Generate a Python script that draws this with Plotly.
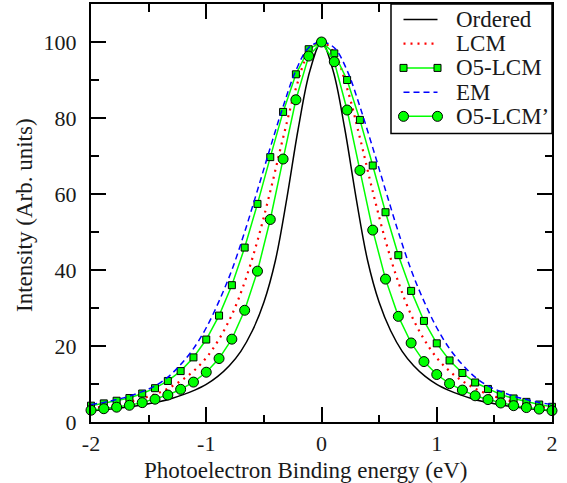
import plotly.graph_objects as go

# Binding-energy grid shared by the sampled spectra (37 points, step 1/9 eV)
energy = [round(-2 + i / 9, 4) for i in range(37)]

# Uniform 0.1 eV grid for the ordered-alloy reference line
energy_ordered = [round(-2 + i * 0.1, 2) for i in range(41)]
ordered = [2.9, 3.2, 3.5, 3.9, 4.3, 4.8, 5.4, 6.2, 7.2, 8.4, 9.9, 12.0, 14.8, 18.6,
           24.0, 31.5, 42.5, 59.0, 77.5, 92.5, 100.0, 92.5, 77.5, 59.0, 42.5, 31.5,
           24.0, 18.6, 14.8, 12.0, 9.9, 8.4, 7.2, 6.2, 5.4, 4.8, 4.3, 3.9, 3.5, 3.2, 2.9]

lcm = [3.6, 4.1, 4.6, 5.3, 6.2, 7.3, 8.8, 10.8, 13.4, 16.9, 21.8, 28.2, 36.8, 47.7,
       60.7, 74.8, 87.8, 97.1, 100.0, 97.1, 87.8, 74.8, 60.7, 47.7, 36.8, 28.2,
       21.8, 16.9, 13.4, 10.8, 8.8, 7.3, 6.2, 5.3, 4.6, 4.1, 3.6]

o5_lcm = [4.3, 4.9, 5.6, 6.3, 7.5, 8.9, 10.8, 13.4, 17.0, 21.7, 28.0, 36.0, 45.9, 57.4,
          69.7, 81.6, 91.5, 98.1, 100.0, 97.0, 90.0, 79.5, 67.5, 55.2, 43.9, 34.5,
          26.6, 20.7, 16.2, 12.9, 10.4, 8.7, 7.2, 6.2, 5.3, 4.6, 4.0]

em = [4.6, 5.15, 5.9, 6.8, 8.0, 9.5, 11.8, 15.1, 19.3, 24.8, 31.8, 40.0, 50.0, 61.0,
      72.2, 83.0, 92.5, 98.5, 100.0, 98.5, 92.5, 83.0, 72.2, 61.0, 50.0, 40.0,
      31.8, 24.8, 19.3, 15.1, 11.8, 9.5, 8.0, 6.8, 5.9, 5.15, 4.6]

o5_lcm_p = [3.1, 3.5, 3.9, 4.4, 5.1, 6.0, 7.1, 8.6, 10.5, 13.1, 16.7, 21.8, 29.4, 39.7,
            53.3, 69.2, 84.8, 96.3, 100.0, 94.8, 82.1, 66.2, 50.5, 37.6, 27.8, 20.8,
            15.9, 12.5, 10.1, 8.4, 6.9, 5.9, 5.0, 4.3, 3.8, 3.4, 3.0]

series_names = ["Ordered", "LCM", "O5-LCM", "EM", "O5-LCM\u2019"]
x_ticks = [-2, -1, 0, 1, 2]
x_tick_text = ["-2", "-1", "0", "1", "2"]
y_ticks = [0, 20, 40, 60, 80, 100]
x_title = "Photoelectron Binding energy (eV)"
y_title = "Intensity (Arb. units)"

FONT = "Liberation Serif, Tinos, Times New Roman, DejaVu Serif, serif"
TEXT = "#1a1a1a"
GREEN = "#00ff00"

fig = go.Figure()
fig.add_trace(go.Scatter(x=energy_ordered, y=ordered, mode="lines", name=series_names[0],
                         line=dict(color="black", width=1.5, shape="spline")))
fig.add_trace(go.Scatter(x=energy, y=lcm, mode="lines", name=series_names[1],
                         line=dict(color="#ff0000", width=2.2, dash="2px,5px", shape="spline")))
fig.add_trace(go.Scatter(x=energy, y=o5_lcm, mode="lines+markers", name=series_names[2],
                         line=dict(color=GREEN, width=1.5), cliponaxis=False,
                         marker=dict(symbol="square", size=7, color=GREEN,
                                     line=dict(color="black", width=1))))
fig.add_trace(go.Scatter(x=energy, y=em, mode="lines", name=series_names[3],
                         line=dict(color="#0000ff", width=1.5, dash="6px,4px", shape="spline")))
fig.add_trace(go.Scatter(x=energy, y=o5_lcm_p, mode="lines+markers", name=series_names[4],
                         line=dict(color=GREEN, width=1.5), cliponaxis=False,
                         marker=dict(symbol="circle", size=10, color=GREEN,
                                     line=dict(color="black", width=1))))

# Plot-area geometry in pixels (used to place the boxed legend and titles)
W, H = 567, 483
ML, MR, MT, MB = 91, 15, 2, 61
PW, PH = W - ML - MR, H - MT - MB


def px_x(p):
    return (p - ML) / PW


def px_y(p):
    return (H - MB - p) / PH


shapes = [dict(type="rect", xref="paper", yref="paper", x0=px_x(391), x1=1.0,
               y0=px_y(132), y1=1.0, line=dict(color="black", width=1.5),
               fillcolor="white", layer="above")]
annotations = []
row_top, row_step = 17.5, 24.35
styles = [
    dict(color="black", width=1.5, dash="solid"),
    dict(color="#ff0000", width=2.2, dash="2px,5px"),
    dict(color=GREEN, width=1.5, dash="solid"),
    dict(color="#0000ff", width=1.5, dash="6px,4px"),
    dict(color=GREEN, width=1.5, dash="solid"),
]
sx0, sx1 = px_x(403.5), px_x(437.5)
for k, (name, st) in enumerate(zip(series_names, styles)):
    yy = px_y(row_top + k * row_step)
    shapes.append(dict(type="line", xref="paper", yref="paper", x0=sx0, x1=sx1,
                       y0=yy, y1=yy, line=st, layer="above"))
    if k in (2, 4):
        kind = "rect" if k == 2 else "circle"
        half = 3.5 if k == 2 else 5
        for xa in (sx0, sx1):
            shapes.append(dict(type=kind, xref="paper", yref="paper",
                               xsizemode="pixel", ysizemode="pixel",
                               xanchor=xa, yanchor=yy, x0=-half, x1=half,
                               y0=-half, y1=half, fillcolor=GREEN,
                               line=dict(color="black", width=1), layer="above"))
    annotations.append(dict(xref="paper", yref="paper", x=px_x(454), y=yy,
                            xanchor="left", yanchor="middle", text=name,
                            showarrow=False, font=dict(family=FONT, size=23, color=TEXT)))

# Axis titles
annotations.append(dict(xref="paper", yref="paper", x=px_x(305), y=px_y(471),
                        xanchor="center", yanchor="middle", text=x_title, showarrow=False,
                        font=dict(family=FONT, size=23, color=TEXT)))
annotations.append(dict(xref="paper", yref="paper", x=px_x(25), y=px_y(214),
                        xanchor="center", yanchor="middle", text=y_title, showarrow=False,
                        textangle=-90, font=dict(family=FONT, size=23, color=TEXT)))

axis_common = dict(showline=True, linecolor="black", linewidth=2, mirror="ticks",
                   ticks="inside", ticklen=15, tickwidth=2, tickcolor="black",
                   showgrid=False, zeroline=False,
                   tickfont=dict(family=FONT, size=22, color=TEXT))

fig.update_xaxes(range=[-2, 2], tickvals=x_ticks, ticktext=x_tick_text,
                 minor=dict(dtick=0.5, ticklen=7.5, tickwidth=2, tickcolor="black",
                            ticks="inside", showgrid=False),
                 ticklabelstandoff=1, **axis_common)
fig.update_yaxes(range=[0, 110], tickvals=y_ticks,
                 minor=dict(dtick=10, ticklen=7.5, tickwidth=2, tickcolor="black",
                            ticks="inside", showgrid=False),
                 ticklabelstandoff=8, **axis_common)

fig.update_layout(width=W, height=H, margin=dict(l=ML, r=MR, t=MT, b=MB),
                  plot_bgcolor="white", paper_bgcolor="white", showlegend=False,
                  shapes=shapes, annotations=annotations,
                  font=dict(family=FONT, size=22, color=TEXT))

fig.write_html("out.html")
